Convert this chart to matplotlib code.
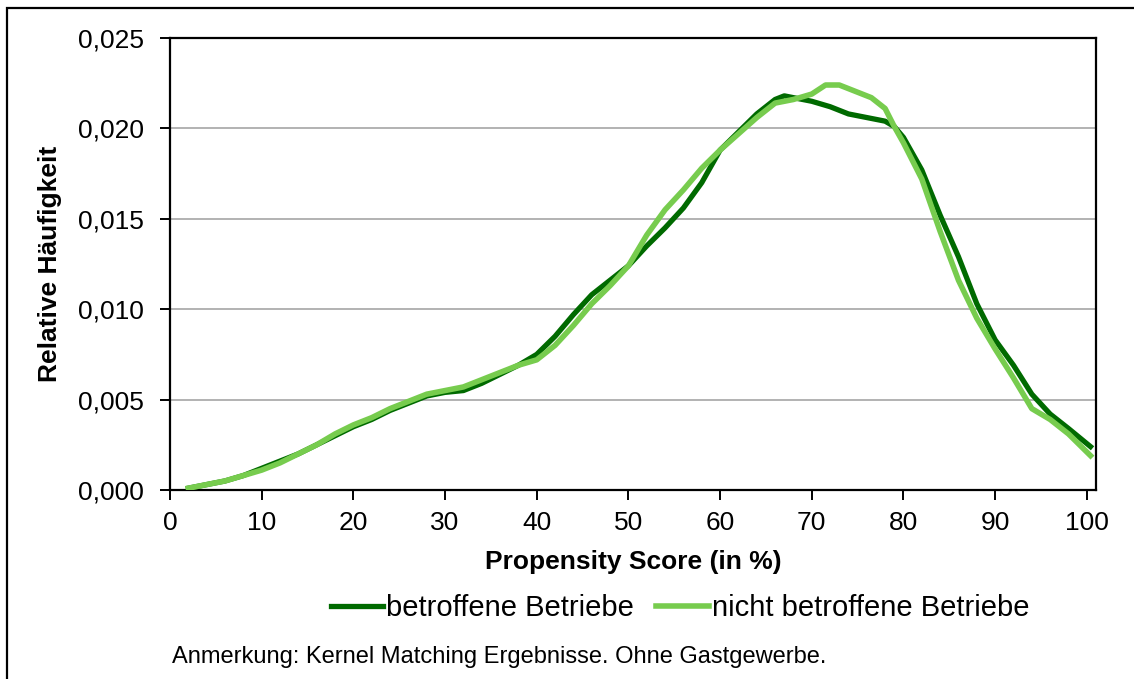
#!/usr/bin/env python3
"""Propensity score densities, Kernel matching (betroffene vs. nicht betroffene Betriebe)."""
import matplotlib
matplotlib.use('Agg')
import matplotlib.pyplot as plt
from matplotlib.patches import Rectangle
from matplotlib.ticker import FuncFormatter, MultipleLocator

plt.rcParams['font.family'] = ['Liberation Sans', 'DejaVu Sans']

# values (x in %, y = relative frequency)
x_betr = [2, 4, 6, 8, 10, 12, 14, 16, 18, 20, 22, 24, 26, 28, 30, 32, 34, 36, 38, 40,
          42, 44, 46, 48, 50, 52, 54, 56, 58, 60, 62, 64, 66, 67, 68, 70, 72, 74, 76,
          78, 79, 80, 82, 84, 86, 88, 90, 92, 94, 96, 98, 100.4]
y_betr = [0.0001, 0.0003, 0.0005, 0.0008, 0.0012, 0.0016, 0.0020, 0.0025, 0.0030, 0.0035,
          0.0039, 0.0044, 0.0048, 0.0052, 0.0054, 0.0055, 0.0059, 0.0064, 0.0069, 0.0075,
          0.0085, 0.0097, 0.0108, 0.0116, 0.0124, 0.0135, 0.0145, 0.0156, 0.0170, 0.0188,
          0.0198, 0.0208, 0.0216, 0.0218, 0.0217, 0.0215, 0.0212, 0.0208, 0.0206,
          0.0204, 0.0201, 0.0195, 0.0177, 0.0152, 0.0129, 0.0103, 0.0083, 0.0069,
          0.0053, 0.0042, 0.0034, 0.0024]

x_nicht = [2, 4, 6, 8, 10, 12, 14, 16, 18, 20, 22, 24, 26, 28, 30, 32, 34, 36, 38, 40,
           42, 44, 46, 48, 50, 52, 54, 56, 58, 60, 62, 64, 66, 68, 70, 71.5, 73, 75,
           76.5, 78, 79, 80, 82, 84, 86, 88, 90, 92, 94, 96, 98, 100.4]
y_nicht = [0.0001, 0.0003, 0.0005, 0.0008, 0.0011, 0.0015, 0.0020, 0.0025, 0.0031, 0.0036,
           0.0040, 0.0045, 0.0049, 0.0053, 0.0055, 0.0057, 0.0061, 0.0065, 0.0069, 0.0072,
           0.0080, 0.0091, 0.0103, 0.0113, 0.0124, 0.0141, 0.0155, 0.0166, 0.0178, 0.0188,
           0.0197, 0.0206, 0.0214, 0.0216, 0.0219, 0.0224, 0.0224, 0.0220, 0.0217,
           0.0211, 0.0201, 0.0192, 0.0172, 0.0143, 0.0116, 0.0095, 0.0078, 0.0062,
           0.0045, 0.0039, 0.0031, 0.0019]

lbl_betr = 'betroffene Betriebe'
lbl_nicht = 'nicht betroffene Betriebe'
note = 'Anmerkung: Kernel Matching Ergebnisse. Ohne Gastgewerbe.'

W, H = 1134, 679
fig = plt.figure(figsize=(W / 100, H / 100), dpi=100)

# outer frame (cut off at right and bottom like the reference)
fig.add_artist(Rectangle((7 / W, -0.05), 1.2, 1 - 8 / H + 0.05, transform=fig.transFigure,
                         fill=False, edgecolor='black', linewidth=1.6))

ax = fig.add_axes([170 / W, 1 - 490 / H, (1096 - 170) / W, (490 - 38) / H])
ax.plot(x_betr, y_betr, color='#006a00', linewidth=3.8, label=lbl_betr, zorder=3)
ax.plot(x_nicht, y_nicht, color='#77cc4e', linewidth=4.0, label=lbl_nicht, zorder=4)

ax.set_xlim(0, 101)
ax.set_ylim(0, 0.025)
ax.xaxis.set_major_locator(MultipleLocator(10))
ax.yaxis.set_major_locator(MultipleLocator(0.005))
ax.yaxis.set_major_formatter(FuncFormatter(lambda v, p: f'{v:.3f}'.replace('.', ',')))
ax.grid(axis='y', color='#a6a6a6', linewidth=1.2)
ax.set_axisbelow(True)
for s in ax.spines.values():
    s.set_linewidth(1.6)
    s.set_color('black')
ax.tick_params(axis='both', direction='out', length=7, width=1.4, labelsize=19)
ax.tick_params(axis='x', pad=8)
ax.tick_params(axis='y', pad=12)

ax.set_xlabel('Propensity Score (in %)', fontsize=19, fontweight='bold', labelpad=11)
ax.set_ylabel('Relative Häufigkeit', fontsize=19, fontweight='bold', labelpad=11)

fig.legend(loc='center', bbox_to_anchor=(680 / W, 1 - 608 / H), ncol=2, frameon=False,
           fontsize=21, handlelength=1.8, handletextpad=0.1, columnspacing=0.75)
fig.text(172 / W, 1 - 657 / H, note, fontsize=17, va='center', ha='left')

fig.savefig('out.png', dpi=100)
